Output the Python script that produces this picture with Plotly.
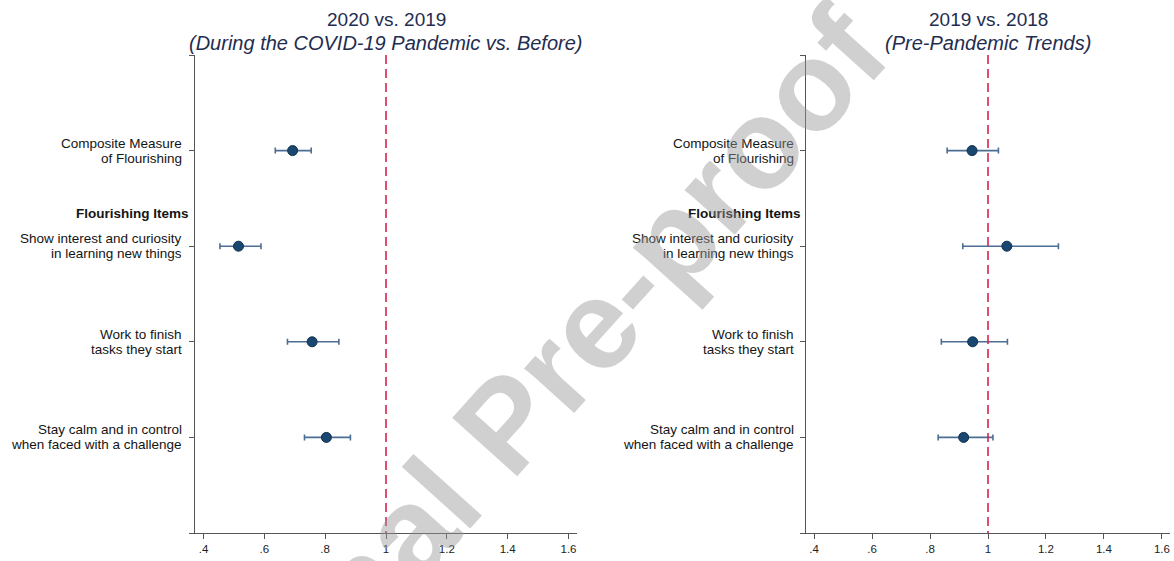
import plotly.graph_objects as go

# Odds-ratio style estimates with 95% confidence intervals
items = [
    ("Composite Measure", "of Flourishing"),
    ("Show interest and curiosity", "in learning new things"),
    ("Work to finish", "tasks they start"),
    ("Stay calm and in control", "when faced with a challenge"),
]
item_pos = [1, 2, 3, 4]
header_text = "Flourishing Items"
header_pos = 1.66

est_2020 = [0.693, 0.515, 0.757, 0.804]
lo_2020 = [0.636, 0.454, 0.676, 0.732]
hi_2020 = [0.754, 0.589, 0.845, 0.883]

est_2019 = [0.945, 1.065, 0.947, 0.916]
lo_2019 = [0.859, 0.913, 0.839, 0.828]
hi_2019 = [1.036, 1.243, 1.067, 1.017]

x_ticks = [0.4, 0.6, 0.8, 1.0, 1.2, 1.4, 1.6]
x_tick_text = [".4", ".6", ".8", "1", "1.2", "1.4", "1.6"]

W, H = 1174, 561
TOP, BOT = 55, 28
FONT = "Liberation Sans, Arial, sans-serif"
MARK = "#1a476f"
BAR = "#4d6e94"
REF = "#d8244f"
TITLE = "#1f2d50"


def py(pix):
    """Pixel row (from top) to paper y coordinate."""
    return (H - BOT - pix) / (H - TOP - BOT)


panels = [
    dict(est=est_2020, lo=lo_2020, hi=hi_2020, dom=(195, 577), lab_x=184,
         t1="2020 vs. 2019", t2="(During the COVID-19 Pandemic vs. Before)"),
    dict(est=est_2019, lo=lo_2019, hi=hi_2019, dom=(806, 1170), lab_x=796,
         t1="2019 vs. 2018", t2="(Pre-Pandemic Trends)"),
]

fig = go.Figure()
annotations = []
shapes = []

for i, p in enumerate(panels, start=1):
    xa = "x" if i == 1 else f"x{i}"
    ya = "y" if i == 1 else f"y{i}"
    fig.add_trace(go.Scatter(
        x=p["est"], y=item_pos, xaxis=xa, yaxis=ya, mode="markers",
        marker=dict(size=10, color=MARK, line=dict(color="#10304f", width=1)),
        error_x=dict(type="data", symmetric=False,
                     array=[h - e for h, e in zip(p["hi"], p["est"])],
                     arrayminus=[e - l for e, l in zip(p["est"], p["lo"])],
                     color=BAR, thickness=1.6, width=3),
        showlegend=False, hoverinfo="skip",
    ))
    # reference line at ratio 1
    shapes.append(dict(type="line", xref=xa, yref=ya, x0=1, x1=1, y0=0, y1=5,
                       line=dict(color=REF, width=1.6, dash="9px,5px"), layer="above"))

    # item labels (two lines each, tight spacing)
    for (l1, l2), yv in zip(items, item_pos):
        for txt, shift in ((l1, 7.5), (l2, -7.5)):
            annotations.append(dict(
                text=txt, x=p["lab_x"] / W, xref="paper", y=yv, yref=ya,
                xanchor="right", yanchor="middle", yshift=shift, showarrow=False,
                font=dict(family=FONT, size=13.5, color="#141414")))
    annotations.append(dict(
        text=f"<b>{header_text}</b>", x=(p["lab_x"] + 7) / W, xref="paper",
        y=header_pos, yref=ya, xanchor="right", yanchor="middle", showarrow=False,
        font=dict(family=FONT, size=13.5, color="#141414")))

    cx = (p["dom"][0] + p["dom"][1]) / 2 / W
    annotations.append(dict(text=p["t1"], x=cx, xref="paper", y=py(20), yref="paper",
                            xanchor="center", yanchor="middle", showarrow=False,
                            font=dict(family=FONT, size=19, color=TITLE)))
    annotations.append(dict(text=f"<i>{p['t2']}</i>", x=cx, xref="paper", y=py(43),
                            yref="paper", xanchor="center", yanchor="middle", showarrow=False,
                            font=dict(family=FONT, size=20, color=TITLE)))

    axis_common = dict(showgrid=False, zeroline=False, showline=True,
                       linecolor="#555555", linewidth=1.2, ticks="outside",
                       ticklen=5, tickcolor="#555555", tickwidth=1.2)
    fig.update_layout(**{
        ("xaxis" if i == 1 else f"xaxis{i}"): dict(
            domain=[p["dom"][0] / W, p["dom"][1] / W], anchor=ya,
            range=[0.372, 1.628], tickvals=x_ticks, ticktext=x_tick_text,
            tickfont=dict(family=FONT, size=11.5, color="#222222"), **axis_common),
        ("yaxis" if i == 1 else f"yaxis{i}"): dict(
            domain=[0, 1], anchor=xa, range=[5, 0], tickvals=[0, 1, 2, 3, 4, 5],
            showticklabels=False, **axis_common),
    })

# journal watermark
annotations.append(dict(text="<b>Journal Pre-proof</b>", x=505 / W, y=py(424),
                        xref="paper", yref="paper", showarrow=False, textangle=-48,
                        xanchor="center", yanchor="middle",
                        font=dict(family=FONT, size=127, color="rgba(150,150,150,0.45)")))

fig.update_layout(
    width=W, height=H, margin=dict(l=0, r=0, t=TOP, b=BOT),
    paper_bgcolor="white", plot_bgcolor="white",
    annotations=annotations, shapes=shapes,
)

fig.write_html("out.html")
